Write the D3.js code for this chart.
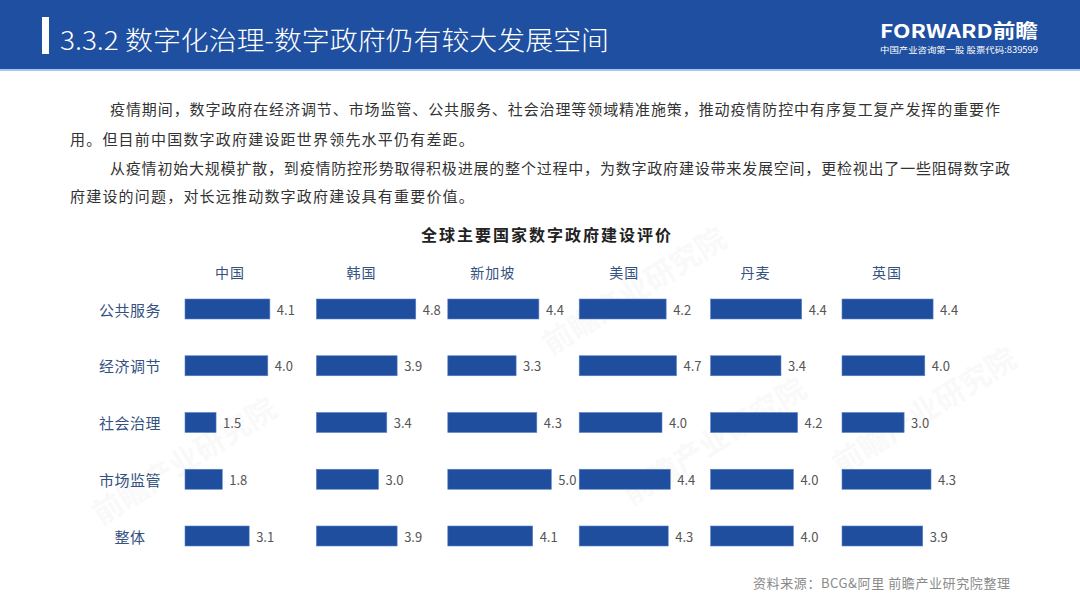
<!DOCTYPE html>
<html>
<head>
<meta charset="utf-8">
<script src="https://cdn.jsdelivr.net/npm/d3@7"></script>
<style>
  body { margin: 0; background: #fff; }
  svg { display: block; }
  text { font-family: "Noto Sans CJK SC", "Noto Sans", sans-serif; }
</style>
</head>
<body>
<div id="chart"></div>
<script>
'use strict';

const countries = ['中国', '韩国', '新加坡', '美国', '丹麦', '英国'];
const rows = ['公共服务', '经济调节', '社会治理', '市场监管', '整体'];

// scores per country, in the order of rows
const chinaVals = [4.1, 4.0, 1.5, 1.8, 3.1];
const koreaVals = [4.8, 3.9, 3.4, 3.0, 3.9];
const singaporeVals = [4.4, 3.3, 4.3, 5.0, 4.1];
const usaVals = [4.2, 4.7, 4.0, 4.4, 4.3];
const denmarkVals = [4.4, 3.4, 4.2, 4.0, 4.0];
const ukVals = [4.4, 4.0, 3.0, 4.3, 3.9];

const pageTitle = '3.3.2 数字化治理-数字政府仍有较大发展空间';
const chartTitle = '全球主要国家数字政府建设评价';
const paragraph = [
    '疫情期间，数字政府在经济调节、市场监管、公共服务、社会治理等领域精准施策，推动疫情防控中有序复工复产发挥的重要作',
    '用。但目前中国数字政府建设距世界领先水平仍有差距。',
    '从疫情初始大规模扩散，到疫情防控形势取得积极进展的整个过程中，为数字政府建设带来发展空间，更检视出了一些阻碍数字政',
    '府建设的问题，对长远推动数字政府建设具有重要价值。'
];
const source = '资料来源：BCG&阿里 前瞻产业研究院整理';

const width = 1080,
      height = 607;
const blue = '#1f4e9f',
      labelBlue = '#34527f';

let values = [chinaVals, koreaVals, singaporeVals, usaVals, denmarkVals, ukVals];
let cells = [];
countries.forEach(function(c, i) {
    rows.forEach(function(r, j) {
        cells.push({'country': c, 'row': r, 'value': values[i][j]});
    });
});

const svg = d3.select('#chart')
              .append('svg')
              .attr('width', width)
              .attr('height', height);

// faint watermarks
const marks = [[190, 470], [640, 300], [720, 450], [930, 420]];
svg.selectAll('.wm')
   .data(marks)
   .enter()
   .append('text')
   .attr('class', 'wm')
   .attr('transform', function(d) { return 'translate(' + d[0] + ',' + d[1] + ') rotate(-32)'; })
   .attr('text-anchor', 'middle')
   .attr('font-size', 30)
   .attr('font-weight', 'bold')
   .attr('fill', '#000')
   .attr('opacity', 0.018)
   .text('前瞻产业研究院');

// header band
svg.append('rect')
   .attr('x', 0).attr('y', 0)
   .attr('width', width).attr('height', 69)
   .attr('fill', '#1f4fa0');
svg.append('rect')
   .attr('x', 0).attr('y', 69)
   .attr('width', width).attr('height', 2)
   .attr('fill', '#a9c6ec');
svg.append('rect')
   .attr('x', 42).attr('y', 17)
   .attr('width', 7).attr('height', 37)
   .attr('fill', '#fff');
svg.append('text')
   .attr('x', 60).attr('y', 50)
   .attr('font-size', 26)
   .attr('font-weight', 300)
   .attr('fill', '#fff')
   .attr('textLength', 549)
   .attr('lengthAdjust', 'spacingAndGlyphs')
   .text(pageTitle);

// logo
svg.append('text')
   .attr('x', 880).attr('y', 38)
   .attr('font-size', 19)
   .attr('font-weight', 'bold')
   .attr('fill', '#fff')
   .attr('textLength', 158)
   .attr('lengthAdjust', 'spacingAndGlyphs')
   .text('FORWARD前瞻');
svg.append('text')
   .attr('x', 880).attr('y', 53)
   .attr('font-size', 8.5)
   .attr('fill', '#fff')
   .attr('textLength', 158)
   .attr('lengthAdjust', 'spacingAndGlyphs')
   .text('中国产业咨询第一股  股票代码:839599');

// body text
const lineX = [110, 70, 110, 70],
      lineY = [108, 138, 167, 195],
      lineLen = [890, null, 900, null];
paragraph.forEach(function(line, i) {
    let t = svg.append('text')
               .attr('x', lineX[i])
               .attr('y', lineY[i])
               .attr('dominant-baseline', 'central')
               .attr('font-size', 15)
               .attr('fill', '#333')
               .text(line);
    if (lineLen[i]) {
        t.attr('textLength', lineLen[i]).attr('lengthAdjust', 'spacing');
    } else {
        t.attr('letter-spacing', 1.2);
    }
});

// chart title
svg.append('text')
   .attr('x', 547).attr('y', 234)
   .attr('text-anchor', 'middle')
   .attr('dominant-baseline', 'central')
   .attr('font-size', 16)
   .attr('font-weight', 'bold')
   .attr('letter-spacing', 2)
   .attr('fill', '#222')
   .text(chartTitle);

// scales
const xCountry = d3.scalePoint().domain(countries).range([185, 842]);
const yRow = d3.scalePoint().domain(rows).range([309, 536]);
const xVal = d3.scaleLinear().domain([0, 5]).range([0, 103.5]);
const barH = 20;

// column headers
svg.selectAll('.col')
   .data(countries)
   .enter()
   .append('text')
   .attr('class', 'col')
   .attr('x', function(d) { return xCountry(d) + 45; })
   .attr('y', 272)
   .attr('text-anchor', 'middle')
   .attr('dominant-baseline', 'central')
   .attr('font-size', 14)
   .attr('letter-spacing', 1)
   .attr('fill', labelBlue)
   .text(function(d) { return d; });

// row labels
svg.selectAll('.row')
   .data(rows)
   .enter()
   .append('text')
   .attr('class', 'row')
   .attr('x', 130)
   .attr('y', function(d) { return yRow(d); })
   .attr('text-anchor', 'middle')
   .attr('dominant-baseline', 'central')
   .attr('font-size', 15)
   .attr('letter-spacing', 0.5)
   .attr('fill', labelBlue)
   .text(function(d) { return d; });

// bars
svg.selectAll('.bar')
   .data(cells)
   .enter()
   .append('rect')
   .attr('class', 'bar')
   .attr('x', function(d) { return xCountry(d.country); })
   .attr('y', function(d) { return yRow(d.row) - barH / 2; })
   .attr('width', function(d) { return xVal(d.value); })
   .attr('height', barH)
   .attr('fill', blue)
   .attr('stroke', '#5a82c4')
   .attr('stroke-width', 0.6);

// value labels
svg.selectAll('.val')
   .data(cells)
   .enter()
   .append('text')
   .attr('class', 'val')
   .attr('x', function(d) { return xCountry(d.country) + xVal(d.value) + 7; })
   .attr('y', function(d) { return yRow(d.row); })
   .attr('dominant-baseline', 'central')
   .attr('font-family', '"Liberation Sans", Arial, sans-serif')
   .attr('font-size', 13)
   .attr('fill', '#555')
   .text(function(d) { return d3.format('.1f')(d.value); });

// source
svg.append('text')
   .attr('x', 753).attr('y', 582)
   .attr('dominant-baseline', 'central')
   .attr('font-size', 13)
   .attr('fill', '#8a8a8a')
   .attr('textLength', 257)
   .attr('lengthAdjust', 'spacing')
   .text(source);
</script>
</body>
</html>
